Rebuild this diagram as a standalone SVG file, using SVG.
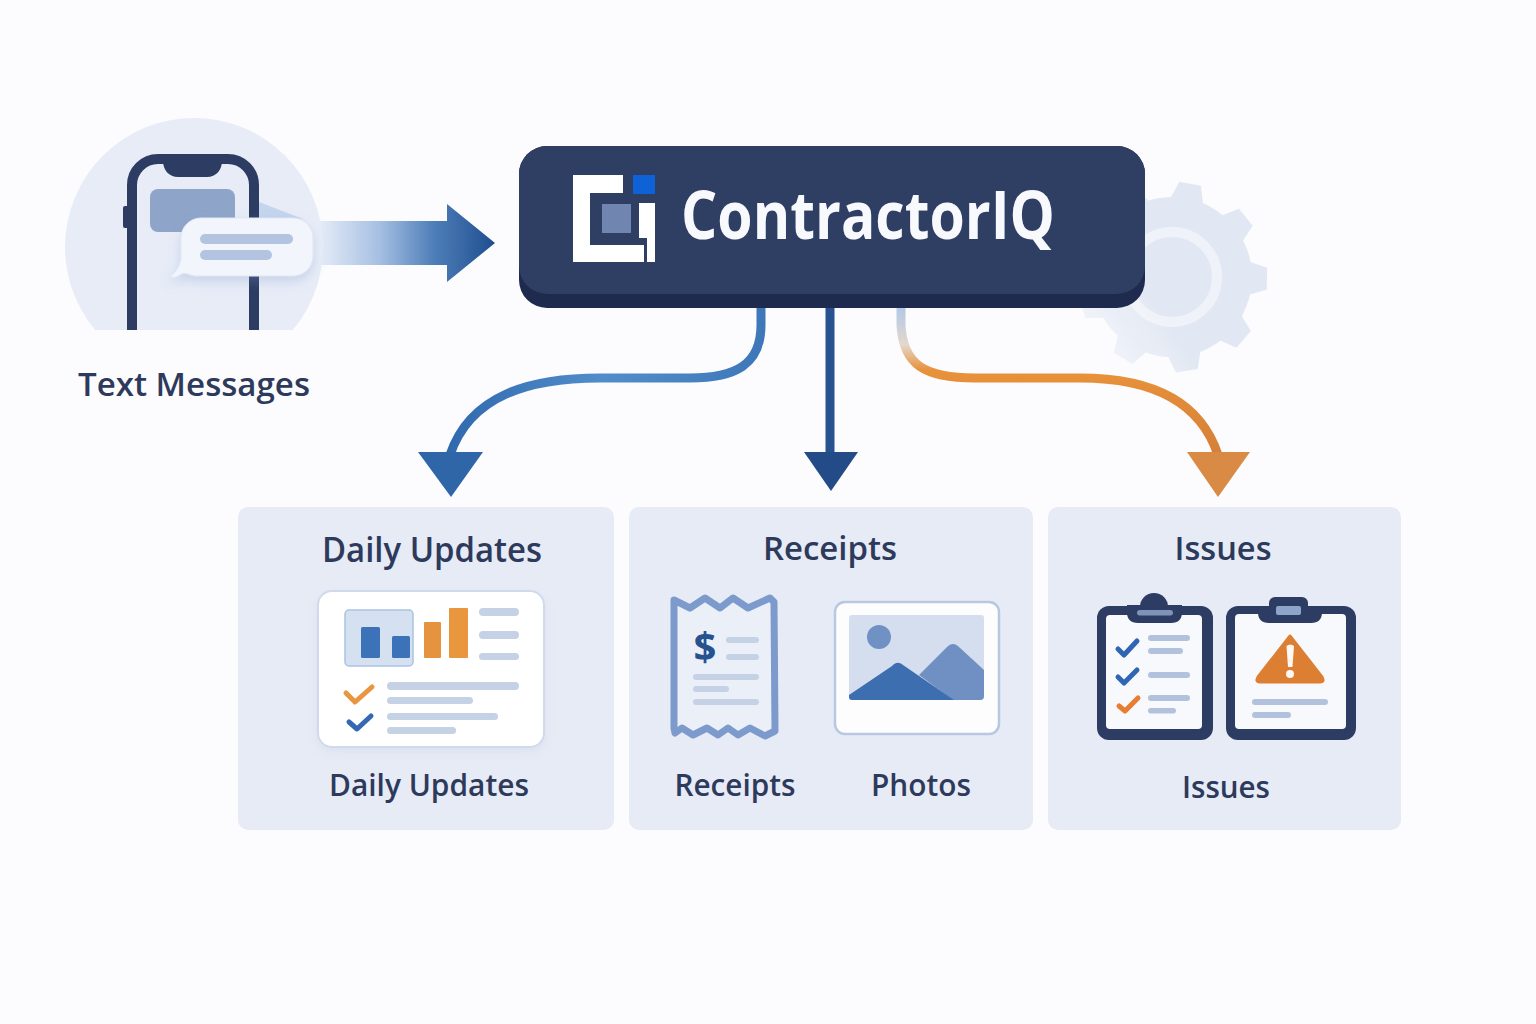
<svg xmlns="http://www.w3.org/2000/svg" width="1536" height="1024" viewBox="0 0 1536 1024">
<style>
text{font-family:"Open Sans","Noto Sans","Liberation Sans",sans-serif;font-weight:600;fill:#2d3a5c;text-anchor:middle}
.panel{fill:#e7ebf5}
.ln{fill:#c5d1e5}
.ln2{fill:#b3c2dc}
.chk{fill:none;stroke-width:5;stroke-linecap:round;stroke-linejoin:round}
.navy{fill:#2c3c62}
.paper{fill:#f8f9fc}
</style>
<defs>
<linearGradient id="inArrow" gradientUnits="userSpaceOnUse" x1="318" y1="0" x2="495" y2="0">
<stop offset="0" stop-color="#e6edf8"/><stop offset=".35" stop-color="#a5bfe2"/><stop offset=".65" stop-color="#4f7fb9"/><stop offset="1" stop-color="#1f4e8f"/>
</linearGradient>
<linearGradient id="leftLine" gradientUnits="userSpaceOnUse" x1="761" y1="0" x2="445" y2="0">
<stop offset="0" stop-color="#3f78b8"/><stop offset=".5" stop-color="#528dcb"/><stop offset="1" stop-color="#2f69ad"/>
</linearGradient>
<linearGradient id="rightLine" gradientUnits="userSpaceOnUse" x1="0" y1="308" x2="0" y2="455">
<stop offset="0" stop-color="#b3c9e8"/><stop offset=".25" stop-color="#e4d8cc"/><stop offset=".42" stop-color="#e8923a"/><stop offset="1" stop-color="#d57f3a"/>
</linearGradient>
<linearGradient id="gearFade" gradientUnits="userSpaceOnUse" x1="1240" y1="240" x2="1080" y2="350">
<stop offset="0" stop-color="#fff"/><stop offset=".55" stop-color="#fff"/><stop offset="1" stop-color="#fff" stop-opacity=".3"/>
</linearGradient>
<mask id="gearMask" maskUnits="userSpaceOnUse" x="1040" y="160" width="250" height="240"><rect x="1040" y="160" width="250" height="240" fill="url(#gearFade)"/></mask>
<clipPath id="circleClip"><rect x="50" y="100" width="300" height="230"/></clipPath>
<polygon id="tooth" points="-17,-76 -11,-95 11,-95 17,-76"/>
<filter id="soft" x="-20%" y="-20%" width="140%" height="150%"><feDropShadow dx="0" dy="5" stdDeviation="6" flood-color="#7d98c6" flood-opacity=".3"/></filter>
<filter id="softer" x="-20%" y="-20%" width="140%" height="150%"><feDropShadow dx="0" dy="4" stdDeviation="5" flood-color="#8ea4c9" flood-opacity=".14"/></filter>
</defs>
<rect width="1536" height="1024" fill="#fcfcfe"/>

<g id="gear" fill="#e2e8f3" mask="url(#gearMask)">
<circle cx="1172" cy="277" r="80"/>
<use href="#tooth" transform="translate(1172 277) rotate(11)"/>
<use href="#tooth" transform="translate(1172 277) rotate(51)"/>
<use href="#tooth" transform="translate(1172 277) rotate(91)"/>
<use href="#tooth" transform="translate(1172 277) rotate(131)"/>
<use href="#tooth" transform="translate(1172 277) rotate(171)"/>
<use href="#tooth" transform="translate(1172 277) rotate(211)"/>
<use href="#tooth" transform="translate(1172 277) rotate(251)"/>
<use href="#tooth" transform="translate(1172 277) rotate(291)"/>
<use href="#tooth" transform="translate(1172 277) rotate(331)"/>
<circle cx="1172" cy="277" r="45" fill="none" stroke="#eff2f8" stroke-width="10"/>
</g>

<g id="connectors">
<path d="M318 221H447V204L495 243L447 282V265H318Z" fill="url(#inArrow)"/>
<path d="M761 308V325C761 365 735 378 690 378H600C530 378 470 395 450 455" fill="none" stroke="url(#leftLine)" stroke-width="9"/>
<polygon points="418,452 483,452 451,497" fill="#2f66a8"/>
<path d="M830 308V455" fill="none" stroke="#27528f" stroke-width="9"/>
<polygon points="804,452 858,452 831,491" fill="#234b87"/>
<path d="M901 308V325C903 365 925 378 975 378H1080C1150 378 1200 400 1218 455" fill="none" stroke="url(#rightLine)" stroke-width="9"/>
<polygon points="1187,452 1250,452 1218,497" fill="#d98a45"/>
</g>

<g id="text-messages">
<circle cx="194" cy="247" r="129" fill="#e7ecf7" clip-path="url(#circleClip)"/>
<g clip-path="url(#circleClip)">
<rect x="132" y="159" width="122" height="200" rx="26" fill="none" stroke="#2c3c62" stroke-width="10"/>
<path d="M163 156H222V161C222 170 216 177 207 177H178C169 177 163 170 163 161Z" class="navy"/>
<rect x="123" y="206" width="6" height="22" rx="2" class="navy"/>
</g>
<rect x="150" y="189" width="85" height="43" rx="8" fill="#8ea4c9"/>
<polygon points="259,202 303,219 259,222" fill="#c4d5ee"/>
<path d="M201 218H293C304 218 313 227 313 238V256C313 267 304 276 293 276H196C190 276 187 272 181 274C178 277 174 278 170 277C176 272 180 266 181 258V238C181 227 190 218 201 218Z" fill="#f2f5fb" stroke="#dfe7f5" filter="url(#soft)"/>
<rect x="200" y="234" width="93" height="10" rx="5" fill="#b3c4e0"/>
<rect x="200" y="250" width="72" height="10" rx="5" fill="#b3c4e0"/>
<text x="194" y="396" font-size="32" textLength="232" lengthAdjust="spacingAndGlyphs">Text Messages</text>
</g>

<g id="contractoriq">
<rect x="519" y="146" width="626" height="162" rx="28" fill="#1e2a4e"/>
<rect x="519" y="146" width="626" height="148" rx="28" fill="#2f3e63"/>
<path d="M573 175H623V193H590V245H644V262H573Z" fill="#fff"/>
<path d="M639 203H655V262H647V238H639Z" fill="#fff"/>
<rect x="633" y="175" width="22" height="19" fill="#0f62d6"/>
<rect x="602" y="204" width="29" height="29" fill="#7086b0"/>
<text x="868" y="239" font-size="66" style="fill:#f8f9fc;font-weight:700" textLength="374" lengthAdjust="spacingAndGlyphs">ContractorIQ</text>
</g>

<g id="daily-updates">
<rect x="238" y="507" width="376" height="323" rx="10" class="panel"/>
<text x="432" y="562" font-size="34" textLength="220" lengthAdjust="spacingAndGlyphs">Daily Updates</text>
<rect x="318" y="591" width="226" height="156" rx="14" fill="#fff" stroke="#cfdbed" stroke-width="2" filter="url(#softer)"/>
<rect x="345" y="610" width="68" height="56" rx="4" fill="#d5e1f1" stroke="#a9c3e4" stroke-width="1.5"/>
<rect x="361" y="627" width="19" height="31" rx="1.5" fill="#3b72b8"/>
<rect x="392" y="636" width="18" height="22" rx="1.5" fill="#3b72b8"/>
<rect x="424" y="622" width="17" height="36" rx="1" fill="#e5933f"/>
<rect x="449" y="608" width="19" height="50" rx="1" fill="#e8973f"/>
<rect x="479" y="608" width="40" height="8" rx="4" class="ln"/>
<rect x="479" y="631" width="40" height="8" rx="4" class="ln"/>
<rect x="479" y="653" width="40" height="7" rx="3.5" class="ln"/>
<rect x="387" y="682" width="132" height="8" rx="4" class="ln"/>
<rect x="387" y="697" width="86" height="7" rx="3.5" class="ln"/>
<rect x="387" y="713" width="111" height="7" rx="3.5" class="ln"/>
<rect x="387" y="727" width="69" height="7" rx="3.5" class="ln"/>
<path d="M346 693L355 702L372 687" class="chk" stroke="#ea9540"/>
<path d="M349 722L357 729L371 716" class="chk" stroke="#3468b4"/>
<text x="429" y="796" font-size="31" textLength="200" lengthAdjust="spacingAndGlyphs">Daily Updates</text>
</g>

<g id="receipts">
<rect x="629" y="507" width="404" height="323" rx="10" class="panel"/>
<text x="830" y="560" font-size="33" textLength="134" lengthAdjust="spacingAndGlyphs">Receipts</text>
<path d="M674 600L690 608L705 598L720 608L733 598L748 608L770 598L774 602L775 731L765 736L750 728L738 735L728 728L718 735L707 728L693 735L682 728L675 733L674 728Z" fill="#eaeff8" stroke="#7c9acb" stroke-width="7" stroke-linejoin="round"/>
<text x="705" y="661" font-size="40" style="fill:#26528f;font-weight:700">$</text>
<rect x="726" y="637" width="33" height="6" rx="3" class="ln"/>
<rect x="726" y="654" width="33" height="6" rx="3" class="ln"/>
<rect x="693" y="674" width="66" height="6" rx="3" class="ln"/>
<rect x="693" y="686" width="36" height="6" rx="3" class="ln"/>
<rect x="693" y="699" width="66" height="6" rx="3" class="ln"/>
<rect x="835" y="602" width="164" height="132" rx="10" fill="#fdfdfe" stroke="#b8c8e2" stroke-width="2.5"/>
<rect x="849" y="615" width="135" height="85" rx="3" fill="#d4deee"/>
<circle cx="879" cy="637" r="12" fill="#7091c4"/>
<path d="M919 675L947 647C951 643 955 643 959 647L984 670V696Q984 700 980 700H953Z" fill="#7090c4"/>
<path d="M849 695L892 666C896 662 899 662 903 665L954 700H852Q849 700 849 697Z" fill="#3d6fb0"/>
<text x="735" y="796" font-size="31" textLength="121" lengthAdjust="spacingAndGlyphs">Receipts</text>
<text x="921" y="796" font-size="31" textLength="100" lengthAdjust="spacingAndGlyphs">Photos</text>
</g>

<g id="issues">
<rect x="1048" y="507" width="353" height="323" rx="10" class="panel"/>
<text x="1223" y="560" font-size="33" textLength="97" lengthAdjust="spacingAndGlyphs">Issues</text>
<rect x="1097" y="606" width="116" height="134" rx="12" class="navy"/>
<rect x="1106" y="615" width="96" height="114" rx="4" class="paper"/>
<circle cx="1154" cy="607" r="14" class="navy"/>
<path d="M1127 605H1182V612Q1182 623 1171 623H1138Q1127 623 1127 612Z" class="navy"/>
<rect x="1137" y="610" width="36" height="5.5" rx="2.7" fill="#7f93b8"/>
<path d="M1118 649L1124 655L1137 641" class="chk" stroke="#2f66b4"/>
<path d="M1118 677L1124 683L1137 670" class="chk" stroke="#2f66b4"/>
<path d="M1119 706L1125 711L1138 698" class="chk" stroke="#e87d34"/>
<rect x="1148" y="635" width="42" height="6" rx="3" class="ln2"/>
<rect x="1148" y="648" width="35" height="6" rx="3" class="ln2"/>
<rect x="1148" y="672" width="42" height="6" rx="3" class="ln2"/>
<rect x="1148" y="695" width="42" height="6" rx="3" class="ln2"/>
<rect x="1148" y="708" width="28" height="5.5" rx="2.7" class="ln2"/>
<rect x="1226" y="606" width="130" height="134" rx="12" class="navy"/>
<rect x="1235" y="614" width="111" height="115" rx="4" class="paper"/>
<rect x="1269" y="597" width="39" height="16" rx="6" class="navy"/>
<path d="M1258 606H1322V612Q1322 623 1311 623H1269Q1258 623 1258 612Z" class="navy"/>
<rect x="1276" y="606" width="25" height="9" rx="2" fill="#8ea4c9"/>
<path d="M1290 636L1322 677Q1325 682 1320 682H1260Q1255 682 1258 677Z" fill="#dd7f32" stroke="#dd7f32" stroke-width="3" stroke-linejoin="round"/>
<path d="M1286.5 646Q1290 643 1294 646L1292.5 667H1288Z" fill="#fdf8f3"/>
<circle cx="1290" cy="674" r="4" fill="#fdf8f3"/>
<rect x="1252" y="699" width="76" height="6" rx="3" class="ln2"/>
<rect x="1252" y="712" width="39" height="6" rx="3" class="ln2"/>
<text x="1226" y="798" font-size="31" textLength="88" lengthAdjust="spacingAndGlyphs">Issues</text>
</g>
</svg>
